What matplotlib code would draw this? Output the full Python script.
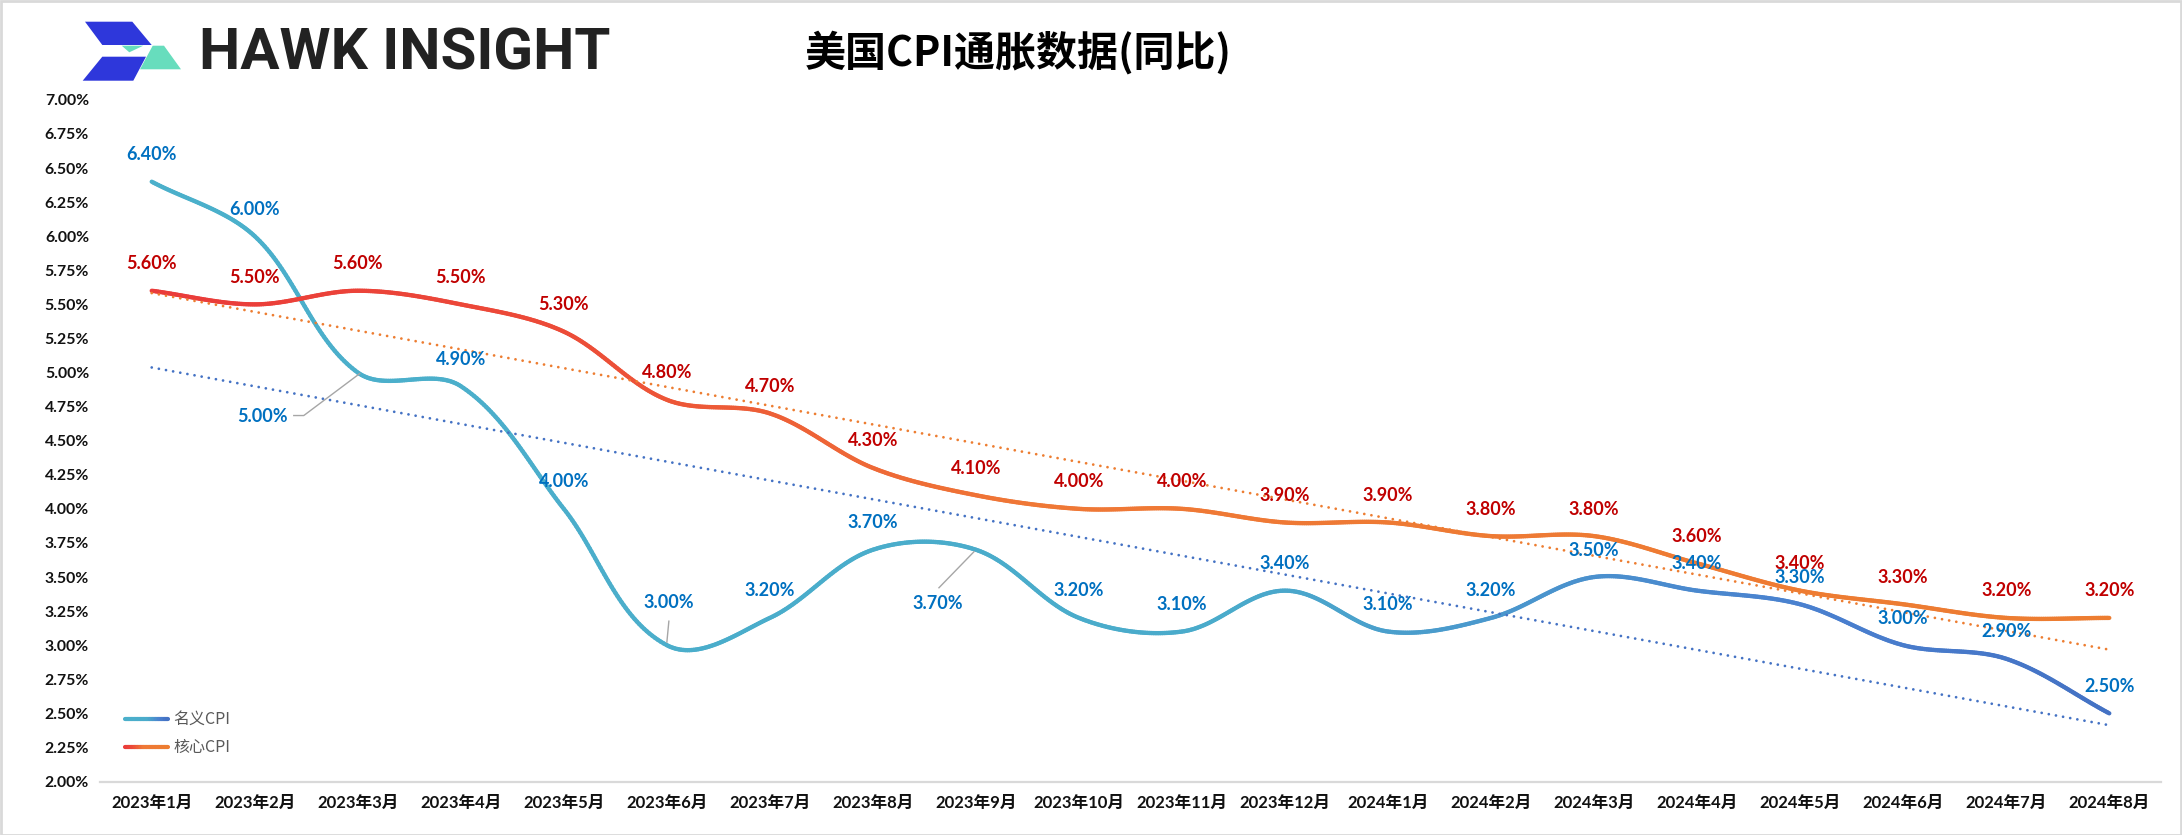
import numpy as np
import matplotlib
matplotlib.use("Agg")
import matplotlib.pyplot as plt
from matplotlib.collections import LineCollection
from matplotlib.colors import LinearSegmentedColormap
from matplotlib.patches import Polygon, Rectangle

# ---------------- data ----------------
months = ["2023年1月", "2023年2月", "2023年3月", "2023年4月", "2023年5月", "2023年6月",
          "2023年7月", "2023年8月", "2023年9月", "2023年10月", "2023年11月", "2023年12月",
          "2024年1月", "2024年2月", "2024年3月", "2024年4月", "2024年5月", "2024年6月",
          "2024年7月", "2024年8月"]
headline_cpi = [6.4, 6.0, 5.0, 4.9, 4.0, 3.0, 3.2, 3.7, 3.7, 3.2, 3.1, 3.4, 3.1, 3.2,
                3.5, 3.4, 3.3, 3.0, 2.9, 2.5]
core_cpi = [5.6, 5.5, 5.6, 5.5, 5.3, 4.8, 4.7, 4.3, 4.1, 4.0, 4.0, 3.9, 3.9, 3.8,
            3.8, 3.6, 3.4, 3.3, 3.2, 3.2]
series_names = ["名义CPI", "核心CPI"]
title_text = "美国CPI通胀数据(同比)"
brand_text = "HAWK INSIGHT"
y_ticks = [2.00, 2.25, 2.50, 2.75, 3.00, 3.25, 3.50, 3.75, 4.00, 4.25, 4.50, 4.75,
           5.00, 5.25, 5.50, 5.75, 6.00, 6.25, 6.50, 6.75, 7.00]

# ---------------- figure ----------------
W, H = 2182, 835
DPI = 100
fig = plt.figure(figsize=(W / DPI, H / DPI), dpi=DPI)
fig.patch.set_facecolor("white")

ax_l, ax_r, ax_b, ax_t = 100.2, 2160.8, 781.5, 99.9
ax = fig.add_axes([ax_l / W, 1 - ax_b / H, (ax_r - ax_l) / W, (ax_b - ax_t) / H])
ax.set_xlim(-0.5, len(months) - 0.5)
ax.set_ylim(2.0, 7.0)

for s in ["top", "right", "left"]:
    ax.spines[s].set_visible(False)
ax.spines["bottom"].set_color("#D9D9D9")
ax.spines["bottom"].set_linewidth(1.6)

LAB_FONT = ["Lato", "Noto Sans CJK SC", "DejaVu Sans"]
ax.set_yticks(y_ticks)
ax.set_yticklabels([f"{v:.2f}%" for v in y_ticks], fontsize=11.4, fontweight="bold",
                   family=LAB_FONT, color="#111111")
ax.set_xticks(range(len(months)))
ax.set_xticklabels(months, fontsize=12.0, fontweight="bold", family=LAB_FONT, color="#111111")
ax.tick_params(axis="y", length=0, pad=8)
ax.tick_params(axis="x", length=0, pad=10)


def smooth(xs, ys, n=48):
    """Excel-like smoothed line: cubic Bezier segments built in screen space,
    tangent along neighbour chord, control length scaled by segment length."""
    P = ax.transData.transform(np.column_stack([xs, ys]).astype(float))
    ext = np.vstack([P[0], P, P[-1]])
    out = []
    for i in range(len(P) - 1):
        p0, p1, p2, p3 = ext[i], ext[i + 1], ext[i + 2], ext[i + 3]
        d12 = np.linalg.norm(p2 - p1)
        d02 = np.linalg.norm(p2 - p0)
        d13 = np.linalg.norm(p3 - p1)
        c1 = p1 + (p2 - p0) / 3.0 * (d12 / d02 if d02 > 0 else 0)
        c2 = p2 - (p3 - p1) / 3.0 * (d12 / d13 if d13 > 0 else 0)
        t = np.linspace(0, 1, n, endpoint=(i == len(P) - 2))[:, None]
        B = (1 - t) ** 3 * p1 + 3 * (1 - t) ** 2 * t * c1 + 3 * (1 - t) * t ** 2 * c2 + t ** 3 * p2
        out.append(B)
    return ax.transData.inverted().transform(np.vstack(out))


head_cmap = LinearSegmentedColormap.from_list(
    "head", [(0.0, "#4BB0CB"), (0.55, "#4AABCB"), (0.85, "#4A80CF"), (1.0, "#4472C4")])
core_cmap = LinearSegmentedColormap.from_list(
    "core", [(0.0, "#EA3B3A"), (0.2, "#EC4A38"), (0.45, "#EF7836"), (1.0, "#ED7D31")])


def grad_line(axis, pts, cmap, lw, z=3):
    xs = pts[:, 0]
    p = pts.reshape(-1, 1, 2)
    segs = np.concatenate([p[:-1], p[1:]], axis=1)
    f = (xs[:-1] + xs[1:]) / 2
    f = (f - xs.min()) / (xs.max() - xs.min())
    lc = LineCollection(segs, colors=cmap(f), linewidths=lw, capstyle="round",
                        joinstyle="round", zorder=z)
    axis.add_collection(lc)


idx = np.arange(len(months))
grad_line(ax, smooth(idx, headline_cpi), head_cmap, 3.1, z=3)
grad_line(ax, smooth(idx, core_cpi), core_cmap, 3.1, z=3)

# linear trendlines
for vals, col in [(headline_cpi, "#4472C4"), (core_cpi, "#ED7D31")]:
    k, b = np.polyfit(idx, vals, 1)
    xx = np.array([idx[0], idx[-1]])
    ax.plot(xx, k * xx + b, color=col, lw=2.0, linestyle=(0, (0.01, 2.6)),
            dash_capstyle="round", zorder=4, clip_on=False)


def px_to_data(i, v, dx, dy):
    x0, y0 = ax.transData.transform((i, v))
    return ax.transData.inverted().transform((x0 + dx, y0 + dy))


# data labels
LBL_SIZE = 13.0
head_special = {2: (-95, -44), 8: (-38, -54), 5: (2, 43)}
leaders = {2: [(-64, -43), (-54, -43), (2, -1)],
           8: [(-37, -38), (-2, -2)],
           5: [(2, 24), (0, 3)]}
for i, v in enumerate(headline_cpi):
    off = head_special.get(i, (0, 27))
    ax.annotate(f"{v:.2f}%", (i, v), xytext=off, textcoords="offset pixels",
                ha="center", va="center", fontsize=LBL_SIZE, fontweight="bold",
                family=LAB_FONT, color="#0070C0", zorder=6)
for i, pts in leaders.items():
    dpts = np.array([px_to_data(i, headline_cpi[i], dx, dy) for dx, dy in pts])
    ax.plot(dpts[:, 0], dpts[:, 1], color="#A6A6A6", lw=1.0, zorder=5)
for i, v in enumerate(core_cpi):
    ax.annotate(f"{v:.2f}%", (i, v), xytext=(0, 27), textcoords="offset pixels",
                ha="center", va="center", fontsize=LBL_SIZE, fontweight="bold",
                family=LAB_FONT, color="#C00000", zorder=6)

# ---------------- legend (manual) ----------------
for (yy, name, cmap) in [(719, series_names[0], head_cmap), (747, series_names[1], core_cmap)]:
    xs = np.linspace(125 / W, 168 / W, 30)
    pts = np.column_stack([xs, np.full_like(xs, 1 - yy / H)])
    p = pts.reshape(-1, 1, 2)
    segs = np.concatenate([p[:-1], p[1:]], axis=1)
    lc = LineCollection(segs, colors=cmap(np.linspace(0, 1, len(segs))), linewidths=3.0,
                        capstyle="round", transform=fig.transFigure)
    fig.add_artist(lc)
    fig.text(173 / W, 1 - yy / H, name, fontsize=11.5, color="#595959",
             family=["Noto Sans CJK SC", "DejaVu Sans"], va="center", ha="left")

# ---------------- title & brand ----------------
fig.text(1018 / W, 1 - 53 / H, title_text, fontsize=29.5, fontweight="heavy",
         family=["Noto Sans CJK SC", "DejaVu Sans"], color="black", ha="center", va="center")
fig.text(199 / W, 1 - 70 / H, brand_text, fontsize=42, fontweight="bold",
         family=["Roboto", "DejaVu Sans"], color="#222222", ha="left", va="baseline")


def fpoly(coords, color):
    c = [(x / W, 1 - y / H) for x, y in coords]
    fig.add_artist(Polygon(c, closed=True, facecolor=color, edgecolor="none",
                           transform=fig.transFigure))


blue, green = "#2E37DB", "#67DDBD"
fpoly([(152.7, 45.7), (164, 45.7), (181, 69.3), (140, 69.3)], green)
fpoly([(121.7, 45.7), (143.3, 45.7), (129.3, 52.3)], green)
fpoly([(85, 21.7), (132.3, 21.7), (151.7, 45), (102.3, 45)], blue)
fpoly([(102.3, 56.7), (146, 56.7), (133.3, 80.7), (82.7, 80.7)], blue)

# border
fig.add_artist(Rectangle((0.5 / W, 0.5 / H), 1 - 1.5 / W, 1 - 1.5 / H, fill=False,
                         edgecolor="#D9D9D9", lw=2.0, transform=fig.transFigure))

fig.savefig("out.png", dpi=DPI, facecolor="white")
